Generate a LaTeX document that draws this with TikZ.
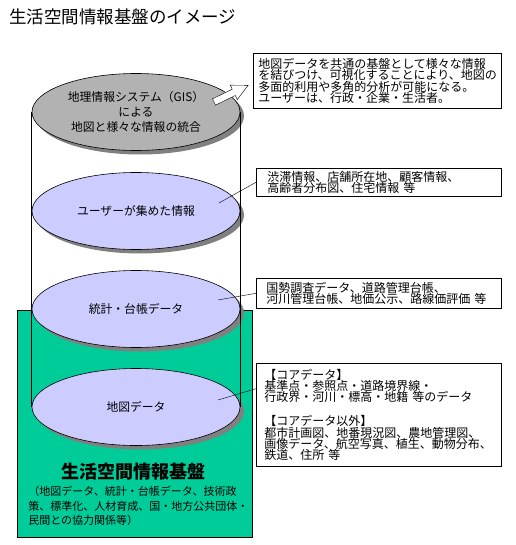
\documentclass[tikz,border=0pt]{standalone}
\usepackage{fontspec}
\setmainfont{Noto Sans CJK JP}
\usetikzlibrary{shapes.geometric,shadows}
\definecolor{layergray}{RGB}{178,178,178}
\definecolor{layerblue}{RGB}{204,204,255}
\definecolor{basegreen}{RGB}{0,204,153}
\definecolor{shadegray}{RGB}{128,128,128}

\begin{document}
\begin{tikzpicture}[
    x=1pt, y=-1pt, semithick,
    layer/.style={ellipse, draw=black, fill=layerblue, minimum width=208pt, minimum height=77pt, inner sep=0pt, align=center, font=\fontsize{11.8}{15}\selectfont, drop shadow={shadow xshift=4pt, shadow yshift=-4pt, fill=shadegray, opacity=1}},
    note/.style={rectangle, draw=black, fill=white, anchor=north west, align=left, inner ysep=0pt, font=\fontsize{12}{11.3}\selectfont},
    leader/.style={draw=black, thin},
    hollowarrow/.style={draw=black, fill=white, thin}
]
    \useasboundingbox (0,0) rectangle (515,545);

    \node[anchor=west, inner sep=0pt, font=\fontsize{17.5}{20}\selectfont] (title) at (9,17) {生活空間情報基盤のイメージ};

    % base platform
    \node[draw=black, fill=basegreen, minimum width=235pt, minimum height=227pt, inner sep=0pt] (platform) at (134.5,423.5) {};

    % layers of the cylinder
    \node[layer, fill=layergray] (gis) at (136,112) {地理情報システム（GIS）\\による\\地図と様々な情報の統合};
    \node[layer] (users) at (136,211) {ユーザーが集めた情報};
    \node[layer] (stats) at (136,309) {統計・台帳データ};
    \node[layer] (map) at (136,407) {地図データ};

    \draw (gis.west) -- (map.west);
    \draw (gis.east) -- (map.east);

    % notes
    \node[note, inner xsep=5pt, text width=238pt, minimum height=55pt] (gisNote) at (253,53) {地図データを共通の基盤として様々な情報\\を結びつけ、可視化することにより、地図の\\多面的利用や多角的分析が可能になる。\\ユーザーは、行政・企業・生活者。};
    \node[note, inner xsep=11pt, text width=223pt, minimum height=28pt] (usersNote) at (256,168) {渋滞情報、店舗所在地、顧客情報、\\高齢者分布図、住宅情報 等};
    \node[note, inner xsep=10pt, text width=225pt, minimum height=30pt] (statsNote) at (256,278) {国勢調査データ、道路管理台帳、\\河川管理台帳、地価公示、路線価評価 等};
    \node[note, inner xsep=8pt, text width=229pt, minimum height=103pt] (mapNote) at (256,363) {【コアデータ】\\基準点・参照点・道路境界線・\\行政界・河川・標高・地籍 等のデータ\\[13pt]【コアデータ以外】\\都市計画図、地番現況図、農地管理図、\\画像データ、航空写真、植生、動物分布、\\鉄道、住所 等};

    \coordinate (usersPt) at (219,203);
    \coordinate (statsPt) at (218,300);
    \coordinate (mapPt) at (218,400);
    \draw[leader] (usersPt) -- (usersNote.west);
    \draw[leader] (statsPt) -- (statsNote.west);
    \draw[leader] (mapPt) -- (mapNote.168);

    % arrow towards the note
    \coordinate (gisTail) at (214,102);
    \draw[hollowarrow, shift={(gisTail)}, rotate=26] (0,-3.5) -- (22,-3.5) -- (22,-8) -- (38,0) -- (22,8) -- (22,3.5) -- (0,3.5) -- cycle;

    % platform text
    \node[font=\fontsize{18}{20}\selectfont\bfseries] (platformTitle) at (133,472) {生活空間情報基盤};
    \node[anchor=north west, inner sep=0pt, align=left, font=\fontsize{11}{14.6}\selectfont] (platformText) at (28,486) {（地図データ、統計・台帳データ、技術政\\策、標準化、人材育成、国・地方公共団体・\\民間との協力関係等）};
\end{tikzpicture}
\end{document}
